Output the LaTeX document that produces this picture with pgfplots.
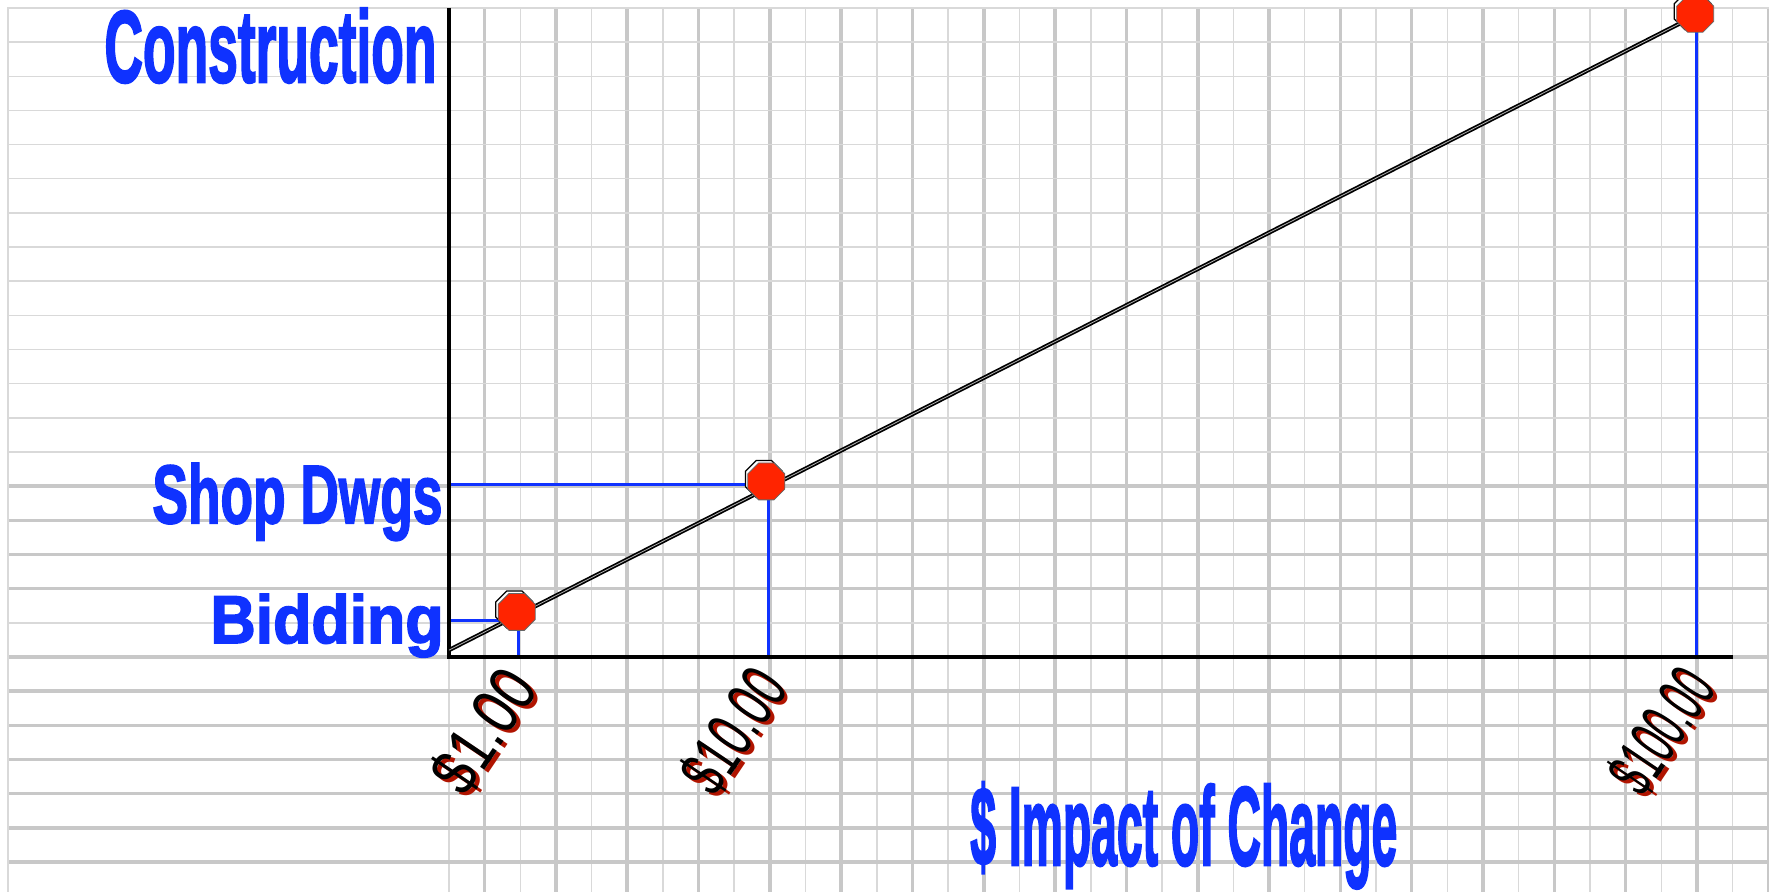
\documentclass[border=0pt]{standalone}
\usepackage{pgfplots}
\pgfplotsset{compat=1.18}
\usepackage{fontspec}
\setmainfont{Liberation Sans}
\newfontfamily\heavy[FakeBold=2.5]{Liberation Sans Bold}
\usepackage{graphicx}
\definecolor{gridA}{HTML}{C8C8C8}
\definecolor{gridB}{HTML}{D9D9D9}
\definecolor{lblue}{HTML}{0F32FF}
\definecolor{mred}{HTML}{FF2400}
\definecolor{dred}{HTML}{B01400}
\pgfdeclareplotmark{oct}{%
  \pgfpathmoveto{\pgfpointpolar{22.5}{\pgfplotmarksize}}%
  \pgfpathlineto{\pgfpointpolar{67.5}{\pgfplotmarksize}}%
  \pgfpathlineto{\pgfpointpolar{112.5}{\pgfplotmarksize}}%
  \pgfpathlineto{\pgfpointpolar{157.5}{\pgfplotmarksize}}%
  \pgfpathlineto{\pgfpointpolar{202.5}{\pgfplotmarksize}}%
  \pgfpathlineto{\pgfpointpolar{247.5}{\pgfplotmarksize}}%
  \pgfpathlineto{\pgfpointpolar{292.5}{\pgfplotmarksize}}%
  \pgfpathlineto{\pgfpointpolar{337.5}{\pgfplotmarksize}}%
  \pgfpathclose\pgfusepathqfillstroke}
\newcommand{\tlab}[1]{\resizebox{66pt}{25pt}{#1}}
\begin{document}
\begin{tikzpicture}
\begin{axis}[
  scale only axis, width=884.5pt, height=446pt,
  xmin=-12.59, xmax=37.02, ymin=-6.879, ymax=19.233,
  enlargelimits=false,
  axis line style={draw=none},
  major tick length=0pt, minor tick length=0pt,
  xtick={1,3,...,37}, minor xtick={0,2,...,36},
  ytick={-6,-5,...,0,2,3,4,5}, minor ytick={1,6,7,...,19},
  xticklabels={}, yticklabels={},
  grid=both,
  major grid style={draw=gridA, line width=1.75pt},
  minor grid style={draw=gridB, line width=0.75pt},
]
% white margins (top and left) and border lines
\fill[white] (axis cs:-12.59,19.02) rectangle (axis cs:37.02,19.233);
\fill[white] (axis cs:-12.59,-6.879) rectangle (axis cs:-12.38,19.233);
\draw[gridB, line width=0.75pt] (axis cs:-12.37,-6.879) -- (axis cs:-12.37,19) -- (axis cs:37.02,19);

% blue reference lines
\addplot[lblue, line width=1.5pt] coordinates {(0,1.08) (1.96,1.08) (1.96,0)};
\addplot[lblue, line width=1.5pt] coordinates {(0,5.06) (8.97,5.06) (8.97,0)};
\addplot[lblue, line width=1.5pt] coordinates {(35,0) (35,19.233)};

% axes
\addplot[black, line width=2pt, line join=miter] coordinates {(0,19) (0,0) (36,0)};

% trend line
\addplot[black, line width=2.1pt] coordinates {(0,0.2) (35,18.8)};
\addplot[gray!60, line width=0.4pt] coordinates {(0,0.2) (35,18.8)};

% markers (shadow then red)
\addplot[only marks, mark=oct, mark size=10pt,
  mark options={fill=white, draw=black, line width=0.6pt, xshift=-1.2pt, yshift=1.2pt}]
  coordinates {(1.9,1.32) (8.9,5.14) (34.95,18.83)};
\addplot[only marks, mark=oct, mark size=10pt,
  mark options={fill=mred, draw=black!60, line width=0.4pt}]
  coordinates {(1.9,1.32) (8.9,5.14) (34.95,18.83)};

% axis titles
\node[anchor=base east, inner sep=0pt, text=lblue] at (axis cs:-0.337,16.83)
  {\resizebox{166pt}{37pt}{\heavy Construction}};
\node[anchor=base east, inner sep=0pt, text=lblue] at (axis cs:-0.17,3.92)
  {\resizebox{145pt}{30pt}{\heavy Shop Dwgs}};
\node[anchor=base east, inner sep=0pt, text=lblue] at (axis cs:-0.14,0.41)
  {\resizebox{116.5pt}{24.5pt}{\heavy Bidding}};
\node[anchor=base west, inner sep=0pt, text=lblue] at (axis cs:14.61,-6.09)
  {\resizebox{213.5pt}{41.5pt}{\heavy \$ Impact of Change}};

% tick labels with red shadow
\node[rotate=56, anchor=east, inner sep=0pt, text=dred] at (axis cs:2.13,-0.64) {\tlab{\$1.00}};
\node[rotate=56, anchor=east, inner sep=0pt, text=black] at (axis cs:2.02,-0.55) {\tlab{\$1.00}};
\node[rotate=56, anchor=east, inner sep=0pt, text=dred] at (axis cs:9.14,-0.64) {\tlab{\$10.00}};
\node[rotate=56, anchor=east, inner sep=0pt, text=black] at (axis cs:9.03,-0.55) {\tlab{\$10.00}};
\node[rotate=56, anchor=east, inner sep=0pt, text=dred] at (axis cs:35.17,-0.64) {\tlab{\$100.00}};
\node[rotate=56, anchor=east, inner sep=0pt, text=black] at (axis cs:35.06,-0.55) {\tlab{\$100.00}};
\end{axis}
\pgfresetboundingbox
\useasboundingbox (current axis.south west) rectangle (current axis.north east);
\end{tikzpicture}
\end{document}
